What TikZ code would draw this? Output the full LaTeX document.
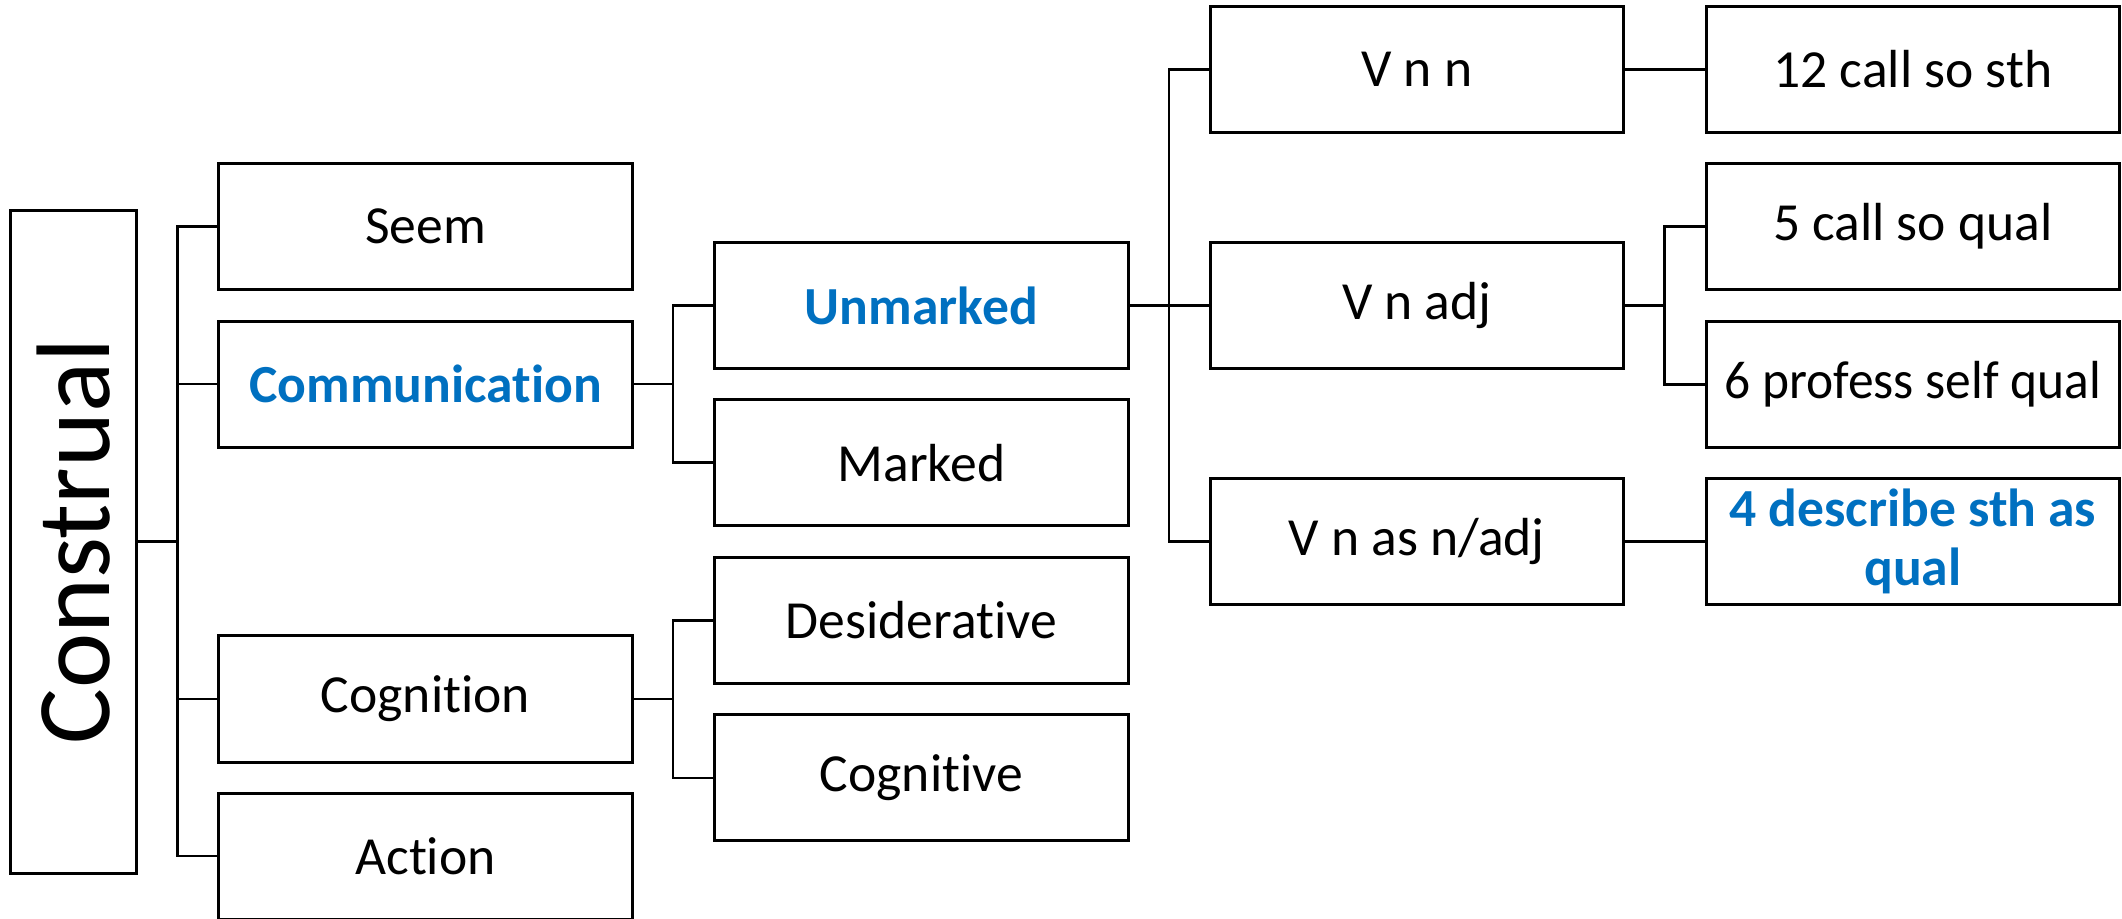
\documentclass[tikz,border=0pt]{standalone}
\usepackage{fontspec}
\setmainfont[Ligatures=NoCommon,RawFeature=-liga]{Carlito}
\definecolor{hblue}{HTML}{0070C0}
\begin{document}
\begin{tikzpicture}[x=0.5pt,y=-0.5pt,
  box/.style={draw=black,line width=1.5pt,minimum width=206.8pt,minimum height=63pt,inner sep=0pt,align=center,font=\fontsize{26.8pt}{29.5pt}\selectfont},
  hl/.style={text=hblue,font=\fontsize{26.8pt}{29.5pt}\selectfont\bfseries},
  conn/.style={line width=1.3pt}]
\useasboundingbox (0,0) rectangle (2122,919);
\node[draw=black,line width=1.5pt,minimum width=63pt,minimum height=331.5pt,inner sep=0pt] (cons) at (73.7,541.6) {\rotatebox{90}{\fontsize{52.3pt}{58pt}\selectfont Construal}};
\node[box] (seem) at (425.5,226.7) {Seem};
\node[box,hl] (comm) at (425.5,384.2) {Communication};
\node[box] (cogn) at (425.5,699) {Cognition};
\node[box] (act) at (425.5,856) {Action};
\node[box,hl] (unm) at (921.4,305.5) {Unmarked};
\node[box] (mark) at (921.4,462.7) {Marked};
\node[box] (desi) at (921.4,620.5) {Desiderative};
\node[box] (cogv) at (921.4,777.8) {Cognitive};
\node[box] (vnn) at (1416.8,69.4) {V n n};
\node[box] (vnadj) at (1416.8,305.5) {V n adj};
\node[box] (vnas) at (1416.8,541.7) {V n as n/adj};
\node[box] (c12) at (1912.8,69.4) {12 call so sth};
\node[box] (c5) at (1912.8,226.7) {5 call so qual};
\node[box] (c6) at (1912.8,384.4) {\scalebox{0.96}[1]{6 profess self qual}};
\node[box,hl] (c4) at (1912.8,541.7) {4 describe sth as\\qual};
\coordinate (t1) at (177.2,0);
\coordinate (t2) at (673,0);
\coordinate (t3) at (1169,0);
\coordinate (t4) at (1664.6,0);
\foreach \c in {seem,comm,cogn,act}
  \draw[conn] (cons.east) -- (cons.east -| t1) |- (\c.west);
\foreach \c in {unm,mark}
  \draw[conn] (comm.east) -- (comm.east -| t2) |- (\c.west);
\foreach \c in {desi,cogv}
  \draw[conn] (cogn.east) -- (cogn.east -| t2) |- (\c.west);
\foreach \c in {vnn,vnadj,vnas}
  \draw[conn] (unm.east) -- (unm.east -| t3) |- (\c.west);
\draw[conn] (vnn.east) -- (c12.west);
\foreach \c in {c5,c6}
  \draw[conn] (vnadj.east) -- (vnadj.east -| t4) |- (\c.west);
\draw[conn] (vnas.east) -- (c4.west);
\end{tikzpicture}
\end{document}
